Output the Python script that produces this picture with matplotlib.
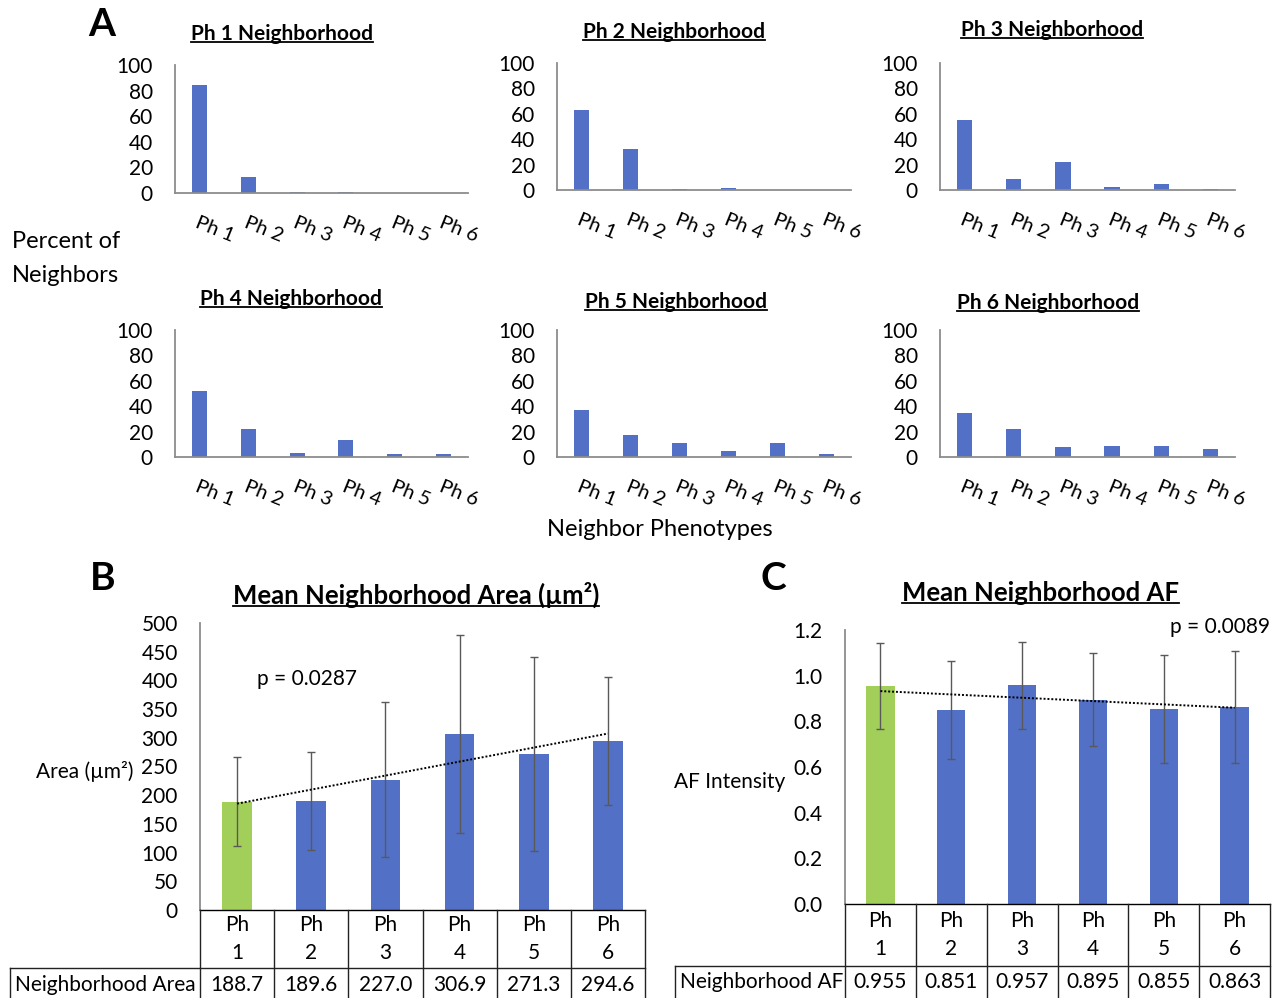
import matplotlib
matplotlib.use('Agg')
import matplotlib.pyplot as plt
import numpy as np
from matplotlib import transforms
from matplotlib.lines import Line2D

W, H = 1276, 998
plt.rcParams['font.family'] = ['Lato', 'DejaVu Sans']

# ---------------- data ----------------
phenotypes = ['Ph 1', 'Ph 2', 'Ph 3', 'Ph 4', 'Ph 5', 'Ph 6']
header_labels = ['Ph\n1', 'Ph\n2', 'Ph\n3', 'Ph\n4', 'Ph\n5', 'Ph\n6']
neigh_titles = ['Ph 1 Neighborhood', 'Ph 2 Neighborhood', 'Ph 3 Neighborhood',
                'Ph 4 Neighborhood', 'Ph 5 Neighborhood', 'Ph 6 Neighborhood']
ph1_neighborhood = [84, 12.5, 1.0, 0.5, 0.2, 0.1]
ph2_neighborhood = [63, 32, 0.5, 1.5, 0.3, 0.2]
ph3_neighborhood = [55, 9, 22, 2, 4.5, 1]
ph4_neighborhood = [52, 22, 3, 13, 2, 2]
ph5_neighborhood = [37, 17, 11, 4.5, 11, 2.5]
ph6_neighborhood = [35, 22, 8, 8.5, 9, 6]

area_mean = [188.7, 189.6, 227.0, 306.9, 271.3, 294.6]
area_sd = [77, 85, 135, 172, 169, 111]
area_p = 'p = 0.0287'

af_mean = [0.955, 0.851, 0.957, 0.895, 0.855, 0.863]
af_sd = [0.19, 0.215, 0.19, 0.204, 0.237, 0.245]
af_p = 'p = 0.0089'

BLUE = '#5270C6'
GREEN = '#A2CE5A'
AXC = '#8C8C8C'
ERRC = '#595959'

fig = plt.figure(figsize=(W / 100, H / 100), dpi=100)


def add_ax(l, t, r, b):
    return fig.add_axes([l / W, 1 - b / H, (r - l) / W, (b - t) / H])


def ftext(x, y, s, **kw):
    return fig.text(x / W, 1 - y / H, s, **kw)


underlined = []

# ---------------- Panel A ----------------
a_boxes = [(175, 65, 468, 193), (557, 63, 851, 190), (940, 63, 1235, 190),
           (175, 330, 468, 457), (557, 330, 851, 457), (940, 330, 1235, 457)]
a_title_pos = [(282, 34), (674, 32), (1052, 30), (291, 299), (676, 302), (1048, 303)]
a_data = [ph1_neighborhood, ph2_neighborhood, ph3_neighborhood,
          ph4_neighborhood, ph5_neighborhood, ph6_neighborhood]
xs = np.arange(1, 7)
for box, vals, title, tp in zip(a_boxes, a_data, neigh_titles, a_title_pos):
    ax = add_ax(*box)
    ax.bar(xs, vals, width=0.31, color=BLUE)
    ax.set_xlim(0.5, 6.5)
    ax.set_ylim(0, 100)
    ax.set_yticks(range(0, 101, 20))
    ax.set_xticks(xs)
    ax.set_xticklabels(phenotypes, rotation=-22, ha='left', va='top',
                       rotation_mode='anchor', fontsize=14.5)
    for s in ['top', 'right']:
        ax.spines[s].set_visible(False)
    for s in ['left', 'bottom']:
        ax.spines[s].set_color(AXC)
        ax.spines[s].set_linewidth(1.3)
    ax.tick_params(axis='y', length=0, pad=16, labelsize=15)
    ax.tick_params(axis='x', length=0, pad=15)
    t = ftext(tp[0], tp[1], title, ha='center', va='center', fontsize=15,
              fontweight='bold')
    underlined.append(t)

ftext(88, 25, 'A', fontsize=28, fontweight='bold', ha='left', va='center')
ftext(12, 241, 'Percent of', fontsize=17, ha='left', va='center')
ftext(12, 275, 'Neighbors', fontsize=17, ha='left', va='center')
ftext(660, 529, 'Neighbor Phenotypes', fontsize=17, ha='center', va='center')


# ---------------- Panels B & C ----------------
def bar_panel(box, means, sds, ylim, yticks, fmt, title, title_pos, ylabel,
              ylabel_pos, ptxt, ppos, row_label, value_fmt, table_left,
              header_bottom, value_y, row_bottom):
    ax = add_ax(*box)
    colors = [GREEN] + [BLUE] * 5
    ax.bar(xs, means, width=0.4, color=colors, zorder=2)
    ax.errorbar(xs, means, yerr=sds, fmt='none', ecolor=ERRC, elinewidth=1,
                capsize=3, capthick=1, zorder=3)
    coef = np.polyfit(xs, means, 1)
    xt = np.array([1, 6])
    ax.plot(xt, np.polyval(coef, xt), linestyle=(0, (1, 1)), color='black',
            lw=1.4, zorder=4)
    ax.set_xlim(0.5, 6.5)
    ax.set_ylim(*ylim)
    ax.set_yticks(yticks)
    ax.set_yticklabels([fmt.format(v) for v in yticks])
    ax.set_xticks([])
    for s in ['top', 'right']:
        ax.spines[s].set_visible(False)
    ax.spines['left'].set_color(AXC)
    ax.spines['left'].set_linewidth(1.3)
    ax.spines['bottom'].set_color('black')
    ax.spines['bottom'].set_linewidth(1)
    ax.tick_params(axis='y', length=0, pad=16, labelsize=15)

    tr = transforms.blended_transform_factory(ax.transData, fig.transFigure)
    top = box[3]
    lc = '#222222'
    for xb in np.arange(0.5, 7.0, 1.0):
        fig.add_artist(Line2D([xb, xb], [1 - top / H, 1 - row_bottom / H],
                              transform=tr, color=lc, lw=1))
    fig.add_artist(Line2D([table_left / W, box[2] / W],
                          [1 - header_bottom / H, 1 - header_bottom / H],
                          transform=fig.transFigure, color=lc, lw=1))
    fig.add_artist(Line2D([table_left / W, table_left / W],
                          [1 - header_bottom / H, 1 - row_bottom / H],
                          transform=fig.transFigure, color=lc, lw=1))
    hy = 1 - (top + header_bottom) / 2 / H
    vy = 1 - value_y / H
    for x, lab, v in zip(xs, header_labels, means):
        fig.text(x, hy, lab, transform=tr, ha='center', va='center',
                 fontsize=15, linespacing=1.55)
        fig.text(x, vy, value_fmt.format(v), transform=tr, ha='center',
                 va='center', fontsize=15)
    ftext(table_left + 5, value_y, row_label, ha='left',
          va='center', fontsize=15)

    t = ftext(title_pos[0], title_pos[1], title, ha='center', va='center',
              fontsize=18.5, fontweight='bold')
    underlined.append(t)
    ftext(ylabel_pos[0], ylabel_pos[1], ylabel, ha='center', va='center',
          fontsize=15)
    ftext(ppos[0], ppos[1], ptxt, ha='center', va='center', fontsize=15)
    return ax


bar_panel((200, 623, 645, 910), area_mean, area_sd, (0, 500),
          list(range(0, 501, 50)), '{:d}', 'Mean Neighborhood Area (µm²)',
          (416, 595), 'Area (µm²)', (85, 771), area_p, (307, 679),
          'Neighborhood Area', '{:.1f}', 10, 968, 985, 1010)
bar_panel((845, 630, 1270, 904), af_mean, af_sd, (0, 1.2),
          [0, 0.2, 0.4, 0.6, 0.8, 1.0, 1.2], '{:.1f}', 'Mean Neighborhood AF',
          (1040, 593), 'AF Intensity', (730, 782), af_p, (1220, 627),
          'Neighborhood AF', '{:.3f}', 675, 966, 982, 1010)

ftext(90, 578, 'B', fontsize=28, fontweight='bold', ha='left', va='center')
ftext(761, 578, 'C', fontsize=28, fontweight='bold', ha='left', va='center')

# underline titles
fig.canvas.draw()
r = fig.canvas.get_renderer()
for t in underlined:
    bb = t.get_window_extent(r)
    y = bb.y0 + 2
    fig.add_artist(Line2D([bb.x0 / W, bb.x1 / W], [y / H, y / H],
                          transform=fig.transFigure, color='black', lw=1.3))

fig.savefig('out.png', dpi=100)
